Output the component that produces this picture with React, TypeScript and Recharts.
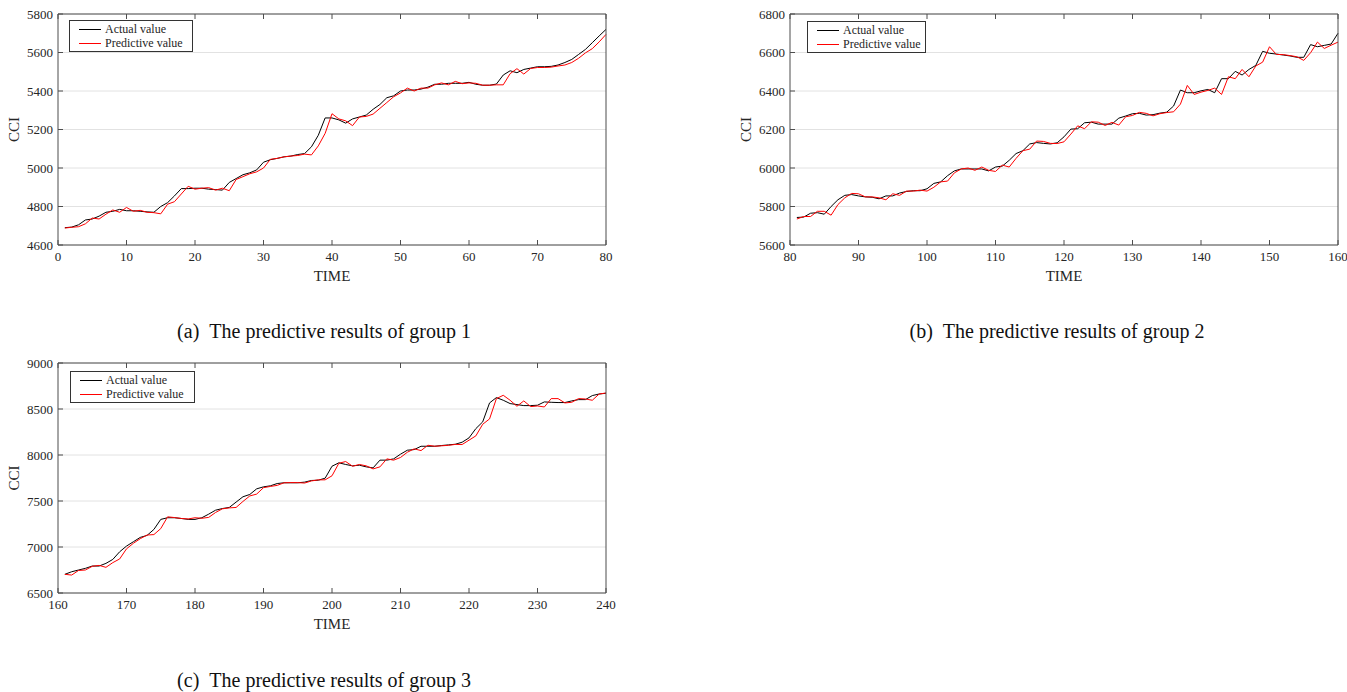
import { LineChart, Line, XAxis, YAxis, CartesianGrid, Legend } from 'recharts';

const ACTUAL_1 = [
  4690, 4693, 4705, 4730, 4735, 4750, 4770, 4775, 4785, 4778,
  4778, 4775, 4772, 4770, 4800, 4820, 4855, 4893, 4893, 4895,
  4895, 4890, 4888, 4885, 4925, 4945, 4965, 4975, 4990, 5030,
  5043, 5050, 5058, 5062, 5070, 5075, 5110, 5170, 5260, 5260,
  5250, 5233, 5255, 5265, 5275, 5305, 5330, 5365, 5375, 5400,
  5405, 5405, 5410, 5420, 5435, 5435, 5440, 5440, 5440, 5445,
  5435, 5430, 5430, 5436, 5483, 5505, 5495, 5512, 5519, 5526,
  5526, 5528, 5535, 5548, 5564, 5590, 5616, 5651, 5686, 5720,
];
const PRED_1 = [
  4688, 4692, 4695, 4710, 4740, 4735, 4760, 4782, 4770, 4795,
  4775, 4780, 4770, 4768, 4762, 4812, 4825, 4865, 4905, 4890,
  4895, 4898, 4885, 4895, 4882, 4940, 4955, 4970, 4980, 5000,
  5045, 5050, 5058, 5062, 5065, 5072, 5068, 5115, 5180, 5282,
  5255, 5245, 5220, 5265, 5268, 5280, 5310, 5340, 5370, 5390,
  5415, 5400, 5415, 5415, 5432, 5442, 5432, 5450, 5438, 5442,
  5440, 5430, 5430, 5432, 5432, 5490, 5516, 5488, 5517, 5522,
  5522, 5524, 5530, 5535, 5548, 5570, 5598, 5620, 5655, 5694,
];

const ACTUAL_2 = [
  5743, 5745, 5765, 5768, 5760, 5800, 5835, 5858, 5862, 5855,
  5850, 5848, 5840, 5855, 5855, 5870, 5878, 5882, 5882, 5892,
  5920, 5928, 5960, 5985, 5995, 5995, 5995, 5995, 5985, 6005,
  6010, 6040, 6075, 6090, 6125, 6132, 6128, 6125, 6131, 6162,
  6202, 6204, 6235, 6238, 6228, 6228, 6228, 6259, 6270, 6282,
  6284, 6275, 6277, 6285, 6290, 6322, 6405, 6391, 6391, 6401,
  6408, 6391, 6464, 6464, 6502, 6483, 6512, 6533, 6606, 6596,
  6592, 6587, 6582, 6575, 6575, 6641, 6630, 6637, 6644, 6700,
];
const PRED_2 = [
  5735, 5748, 5748, 5775, 5775, 5755, 5810, 5845, 5868, 5866,
  5850, 5850, 5845, 5835, 5866, 5858, 5880, 5880, 5885, 5880,
  5900, 5928, 5932, 5975, 5995, 6000, 5988, 6005, 5988, 5982,
  6015, 6005, 6050, 6090, 6098, 6140, 6138, 6128, 6127, 6136,
  6176, 6219, 6204, 6240, 6238, 6221, 6237, 6223, 6266, 6273,
  6289, 6284, 6271, 6282, 6288, 6292, 6332, 6429, 6382, 6394,
  6403, 6415, 6382, 6474, 6464, 6512, 6474, 6530, 6550, 6630,
  6590, 6589, 6584, 6578, 6559, 6599, 6654, 6621, 6638, 6654,
];

const ACTUAL_3 = [
  6703, 6731, 6750, 6768, 6793, 6793, 6822, 6865, 6948, 7010,
  7057, 7104, 7126, 7191, 7300, 7318, 7318, 7310, 7300, 7300,
  7318, 7357, 7400, 7418, 7430, 7488, 7546, 7571, 7632, 7654,
  7665, 7690, 7698, 7698, 7698, 7705, 7723, 7726, 7748, 7878,
  7915, 7897, 7882, 7889, 7871, 7860, 7944, 7944, 7958, 8009,
  8052, 8059, 8095, 8095, 8095, 8103, 8110, 8117, 8139, 8186,
  8287, 8360, 8566, 8624, 8595, 8559, 8548, 8537, 8537, 8541,
  8577, 8573, 8570, 8570, 8588, 8602, 8602, 8646, 8663, 8671,
];
const PRED_3 = [
  6703, 6695, 6745, 6750, 6790, 6800, 6779, 6830, 6870, 6980,
  7040, 7090, 7130, 7135, 7200, 7328, 7320, 7310, 7305, 7318,
  7312, 7322, 7375, 7415, 7425, 7430, 7495, 7555, 7575, 7645,
  7658, 7670, 7698, 7700, 7700, 7695, 7718, 7730, 7730, 7774,
  7910, 7929, 7878, 7897, 7882, 7849, 7871, 7958, 7944, 7973,
  8030, 8067, 8048, 8106, 8095, 8100, 8105, 8115, 8114, 8161,
  8208, 8334, 8392, 8613, 8649, 8595, 8530, 8588, 8526, 8533,
  8522, 8613, 8613, 8566, 8573, 8613, 8609, 8595, 8663, 8674,
];

const X_TICKS_1 = [0, 10, 20, 30, 40, 50, 60, 70, 80];
const X_TICKS_2 = [80, 90, 100, 110, 120, 130, 140, 150, 160];
const X_TICKS_3 = [160, 170, 180, 190, 200, 210, 220, 230, 240];
const Y_TICKS_1 = [4600, 4800, 5000, 5200, 5400, 5600, 5800];
const Y_TICKS_2 = [5600, 5800, 6000, 6200, 6400, 6600, 6800];
const Y_TICKS_3 = [6500, 7000, 7500, 8000, 8500, 9000];

const SERIES_NAMES = ['Actual value', 'Predictive value'];
const CAPTIONS = [
  '(a)\u00a0\u00a0The predictive results of group 1',
  '(b)\u00a0\u00a0The predictive results of group 2',
  '(c)\u00a0\u00a0The predictive results of group 3',
];

const FONT = '"Liberation Serif", "Times New Roman", serif';
const AXIS = '#4d4d4d';
const TEXT = '#262626';

function toRows(start: number, actual: number[], pred: number[]) {
  return actual.map((v, i) => ({ t: start + i, actual: v, pred: pred[i] }));
}

const noTick = () => <g />;

function LegendBox({ payload, width }: any) {
  return (
    <div
      style={{
        boxSizing: 'border-box',
        width,
        height: 32,
        border: '1px solid #333',
        background: '#fff',
        padding: '1px 0 0 9px',
        fontFamily: FONT,
        fontSize: 12,
        color: TEXT,
      }}
    >
      {(payload || []).map((p: any) => (
        <div key={p.value} style={{ display: 'flex', alignItems: 'center', height: 14, whiteSpace: 'nowrap' }}>
          <span style={{ display: 'inline-block', width: 22, height: 0, borderTop: `1.3px solid ${p.color}`, marginRight: 4 }} />
          <span>{p.value}</span>
        </div>
      ))}
    </div>
  );
}

type PanelProps = {
  left: number;
  top: number;
  width: number;
  margin: { top: number; right: number; bottom: number; left: number };
  data: { t: number; actual: number; pred: number }[];
  xTicks: number[];
  yTicks: number[];
  legendPos: { left: number; top: number; width: number };
};

function Panel({ left, top, width, margin, data, xTicks, yTicks, legendPos }: PanelProps) {
  const xDomain = [xTicks[0], xTicks[xTicks.length - 1]];
  const yDomain = [yTicks[0], yTicks[yTicks.length - 1]];
  const tickStyle = { fontFamily: FONT, fontSize: 13, fill: TEXT };
  return (
    <div style={{ position: 'absolute', left, top }}>
      <LineChart width={width} height={300} data={data} margin={margin}>
        <CartesianGrid vertical={false} stroke="#e2e2e2" />
        <XAxis
          dataKey="t"
          type="number"
          domain={xDomain}
          ticks={xTicks}
          interval={0}
          height={45}
          tickSize={-5}
          tickMargin={12}
          tick={tickStyle}
          stroke={AXIS}
          label={{ value: 'TIME', position: 'insideBottom', offset: 9, style: { fontFamily: FONT, fontSize: 15, fill: TEXT } }}
        />
        <XAxis
          xAxisId="top"
          orientation="top"
          dataKey="t"
          type="number"
          domain={xDomain}
          ticks={xTicks}
          interval={0}
          height={1}
          tickSize={-5}
          tick={noTick}
          stroke={AXIS}
        />
        <YAxis
          type="number"
          domain={yDomain}
          ticks={yTicks}
          interval={0}
          width={50}
          tickSize={-5}
          tickMargin={10}
          tick={tickStyle}
          stroke={AXIS}
          label={{ value: 'CCI', angle: -90, position: 'insideLeft', offset: 6, style: { fontFamily: FONT, fontSize: 15, fill: TEXT, textAnchor: 'middle' } }}
        />
        <YAxis
          yAxisId="r"
          orientation="right"
          type="number"
          domain={yDomain}
          ticks={yTicks}
          interval={0}
          width={1}
          tickSize={-5}
          tick={noTick}
          stroke={AXIS}
        />
        <Legend
          layout="vertical"
          align="center"
          verticalAlign="middle"
          wrapperStyle={{ left: legendPos.left, top: legendPos.top, width: legendPos.width }}
          content={(props: any) => <LegendBox payload={props.payload} width={legendPos.width} />}
        />
        <Line type="linear" dataKey="actual" name={SERIES_NAMES[0]} stroke="#000000" strokeWidth={1} dot={false} activeDot={false} isAnimationActive={false} />
        <Line type="linear" dataKey="pred" name={SERIES_NAMES[1]} stroke="#ff0000" strokeWidth={1} dot={false} activeDot={false} isAnimationActive={false} />
      </LineChart>
    </div>
  );
}

function Caption({ text, center, top }: { text: string; center: number; top: number }) {
  return (
    <div
      style={{
        position: 'absolute',
        left: center - 250,
        top,
        width: 500,
        textAlign: 'center',
        fontFamily: FONT,
        fontSize: 20,
        lineHeight: '24px',
        color: '#111',
        whiteSpace: 'nowrap',
      }}
    >
      {text}
    </div>
  );
}

export default function App() {
  return (
    <div style={{ position: 'absolute', left: 0, top: 0, width: 1347, height: 692, background: '#fff', overflow: 'hidden' }}>
      <Panel
        left={0}
        top={0}
        width={620}
        margin={{ top: 13, right: 13, bottom: 10, left: 8 }}
        data={toRows(1, ACTUAL_1, PRED_1)}
        xTicks={X_TICKS_1}
        yTicks={Y_TICKS_1}
        legendPos={{ left: 69, top: 20, width: 124 }}
      />
      <Panel
        left={730}
        top={0}
        width={617}
        margin={{ top: 13, right: 8, bottom: 10, left: 10 }}
        data={toRows(81, ACTUAL_2, PRED_2)}
        xTicks={X_TICKS_2}
        yTicks={Y_TICKS_2}
        legendPos={{ left: 77, top: 21, width: 119 }}
      />
      <Panel
        left={0}
        top={350}
        width={620}
        margin={{ top: 12, right: 13, bottom: 12, left: 8 }}
        data={toRows(161, ACTUAL_3, PRED_3)}
        xTicks={X_TICKS_3}
        yTicks={Y_TICKS_3}
        legendPos={{ left: 70, top: 21, width: 125 }}
      />
      <Caption text={CAPTIONS[0]} center={324} top={319} />
      <Caption text={CAPTIONS[1]} center={1057} top={319} />
      <Caption text={CAPTIONS[2]} center={324} top={668} />
    </div>
  );
}
